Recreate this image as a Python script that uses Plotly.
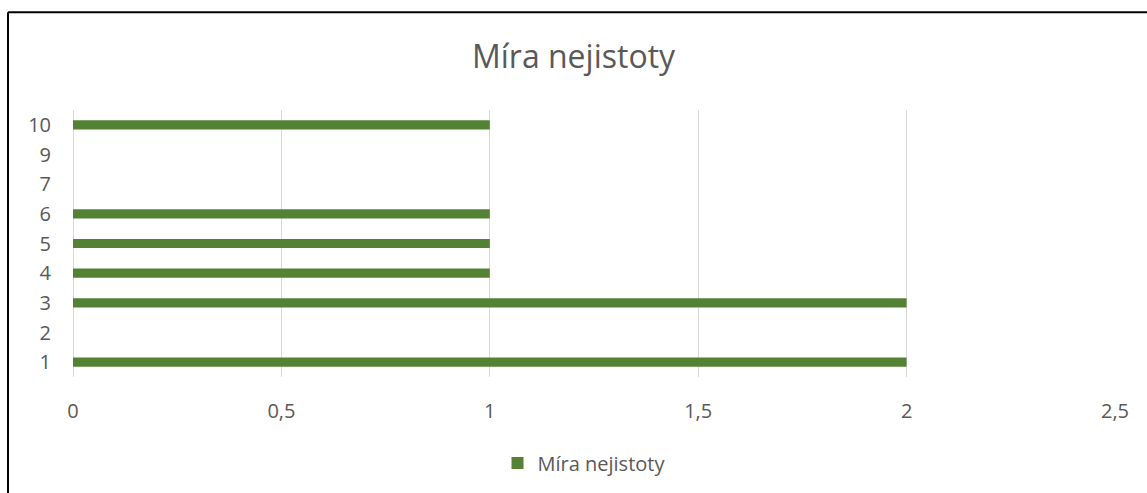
import plotly.graph_objects as go

categories = ["1", "2", "3", "4", "5", "6", "7", "9", "10"]
values = [2, 0, 2, 1, 1, 1, 0, 0, 1]
x_ticks = [0, 0.5, 1, 1.5, 2, 2.5]
x_tick_labels = ["0", "0,5", "1", "1,5", "2", "2,5"]
series_name = "Míra nejistoty"
title_text = "Míra nejistoty"

W, H = 1147, 493
L, R, T, B = 73, 32, 110, 115
pw, ph = W - L - R, H - T - B

fig = go.Figure()
fig.add_trace(go.Bar(
    y=categories, x=values, orientation="h", name=series_name,
    marker=dict(color="#548235", line=dict(width=0)),
    showlegend=True,
))

font_fam = "Open Sans, Noto Sans, sans-serif"
fs = 20
fig.update_layout(
    width=W, height=H,
    margin=dict(l=L, r=R, t=T, b=B),
    paper_bgcolor="white", plot_bgcolor="white",
    bargap=0.69,
    font=dict(family=font_fam, color="#595959", size=fs),
    title=dict(text=title_text, x=0.5, xanchor="center", y=1 - 57 / H, yanchor="middle",
               font=dict(size=32, color="#595959", family=font_fam)),
    xaxis=dict(range=[0, 2.5], tickvals=x_ticks, ticktext=x_tick_labels,
               showgrid=True, gridcolor="#d9d9d9", gridwidth=1,
               zeroline=True, zerolinecolor="#d9d9d9", zerolinewidth=1,
               showline=False, ticks="", ticklabelstandoff=20,
               tickfont=dict(size=fs, color="#595959")),
    yaxis=dict(type="category", categoryorder="array", categoryarray=categories,
               showgrid=False, zeroline=False, showline=False, ticks="",
               ticklabelstandoff=21, tickfont=dict(size=fs, color="#595959")),
    legend=dict(orientation="h", x=0.5 - 10 / pw, xanchor="center", y=-(463 - (T + ph)) / ph,
                yanchor="middle", font=dict(size=fs, color="#595959"),
                itemwidth=30, itemsizing="constant"),
    shapes=[
        dict(type="line", xref="paper", yref="paper",
             x0=(8 - L) / pw, x1=(W + 20 - L) / pw,
             y0=(H - B - 12) / ph, y1=(H - B - 12) / ph,
             line=dict(color="black", width=2)),
        dict(type="line", xref="paper", yref="paper",
             x0=(8 - L) / pw, x1=(8 - L) / pw,
             y0=(H - B - 12) / ph, y1=-(B + 20) / ph,
             line=dict(color="black", width=2)),
    ],
)

fig.write_html("out.html", config={"displayModeBar": False},
               post_script="document.body.style.margin='0';document.body.style.overflow='hidden';")
